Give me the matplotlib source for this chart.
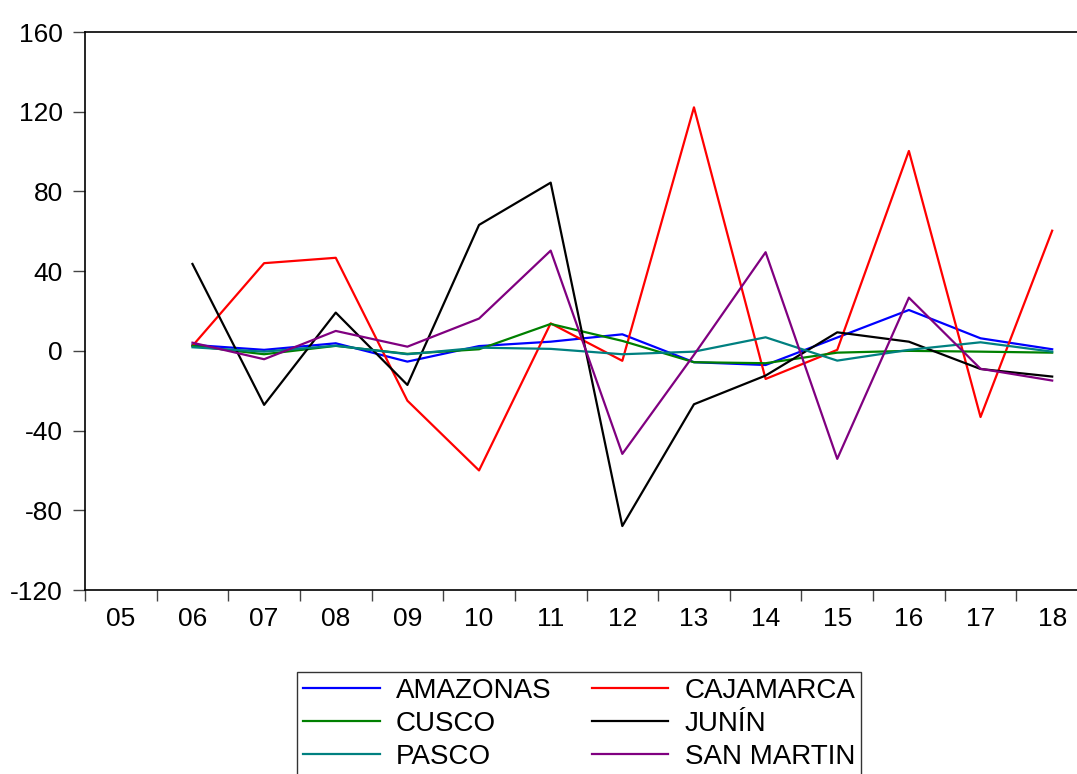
import numpy as np
import matplotlib
matplotlib.use("Agg")
import matplotlib.pyplot as plt

plt.rcParams['font.family'] = ['Liberation Sans', 'DejaVu Sans']
plt.rcParams['axes.unicode_minus'] = False

# data (years 2006-2018)
years = np.arange(2006, 2019)
amazonas = [3.0, 0.5, 3.8, -5.4, 2.4, 4.6, 8.3, -5.7, -7.1, 6.7, 20.5, 6.3, 0.8]
cajamarca = [2.5, 44.0, 46.7, -25.0, -60.0, 13.8, -5.0, 122.2, -14.1, 0.5, 100.3, -33.2, 60.3]
cusco = [2.5, -1.7, 2.5, -1.5, 0.8, 13.5, 5.0, -5.7, -6.2, -0.9, 0.0, -0.4, -0.9]
junin = [43.6, -27.1, 19.2, -17.1, 63.2, 84.4, -87.9, -26.8, -12.4, 9.3, 4.6, -9.1, -12.9]
pasco = [1.8, -0.4, 2.6, -1.7, 1.6, 1.0, -1.7, -0.4, 6.8, -4.9, 0.5, 4.3, -0.4]
san_martin = [4.1, -4.2, 10.0, 2.1, 16.2, 50.3, -51.7, -2.0, 49.5, -54.2, 26.7, -9.0, -14.9]

year_labels = ['05', '06', '07', '08', '09', '10', '11', '12', '13', '14', '15', '16', '17', '18']
label_years = np.arange(2005, 2019)

series = [
    ('AMAZONAS', amazonas, '#0000FF'),
    ('CAJAMARCA', cajamarca, '#FF0000'),
    ('CUSCO', cusco, '#008000'),
    ('JUNÍN', junin, '#000000'),
    ('PASCO', pasco, '#008080'),
    ('SAN MARTIN', san_martin, '#800080'),
]

fig = plt.figure(figsize=(10.77, 7.74), dpi=100)
ax = fig.add_axes([85 / 1077, 184 / 774, 1003 / 1077, 558 / 774])

lines = []
for name, vals, col in series:
    ln, = ax.plot(years, vals, color=col, lw=1.6, label=name)
    lines.append(ln)

ax.set_xlim(2004.5, 2018.5)
ax.set_ylim(-120, 160)
ax.set_yticks(np.arange(-120, 161, 40))

# period boundaries as major ticks, labels on the minor ticks at the centres
ax.set_xticks(np.arange(2004.5, 2018.6, 1.0))
ax.set_xticklabels([])
ax.set_xticks(label_years, minor=True)
ax.set_xticklabels(year_labels, minor=True)

ax.tick_params(axis='x', which='major', direction='out', length=8, width=1, color='#444444')
ax.tick_params(axis='x', which='minor', length=0, pad=12, labelsize=19)
ax.tick_params(axis='y', direction='out', length=9, width=1, color='#444444', pad=7, labelsize=19)

for s in ax.spines.values():
    s.set_linewidth(1.2)
    s.set_color('black')

# legend filled row by row like the reference
order = [0, 2, 4, 1, 3, 5]
leg = fig.legend([lines[i] for i in order], [series[i][0] for i in order],
                 loc='upper left', bbox_to_anchor=(297 / 1077, 1 - 672 / 774),
                 ncol=2, fontsize=20, frameon=True, fancybox=False,
                 edgecolor='black', handlelength=2.77, handletextpad=0.58,
                 columnspacing=1.45, labelspacing=0.26, borderpad=0.2,
                 borderaxespad=0)
leg.get_frame().set_linewidth(1.0)

fig.savefig('out.png', dpi=100)
